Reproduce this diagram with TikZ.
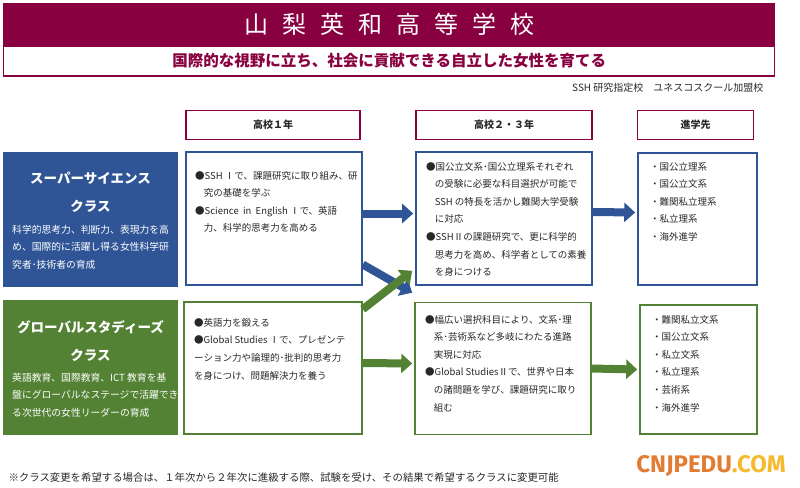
\documentclass[tikz,border=0pt]{standalone}
\usepackage{fontspec}
\setmainfont{Noto Sans CJK JP}
\newfontfamily\wmfont{Fira Sans}
\usetikzlibrary{arrows.meta,positioning}
\definecolor{schoolRed}{RGB}{136,0,64}
\definecolor{ssBlue}{RGB}{47,85,151}
\definecolor{gsGreen}{RGB}{84,130,53}
\definecolor{bodyInk}{RGB}{40,40,40}
\definecolor{wmOrange}{RGB}{226,124,50}
\definecolor{wmYellow}{RGB}{246,186,48}
\tikzset{
  headbox/.style={draw=schoolRed, line width=1.3pt, fill=white, minimum height=29pt, text=bodyInk, font=\bfseries\fontsize{10}{12}\selectfont},
  classbox/.style={minimum width=175pt, minimum height=135pt, inner sep=0pt},
  ssclass/.style={classbox, fill=ssBlue},
  gsclass/.style={classbox, fill=gsGreen},
  classtitle/.style={text=white, align=center, inner sep=0pt, font=\bfseries\fontsize{13.5}{28}\selectfont},
  classdesc/.style={text=white, align=left, inner sep=0pt, anchor=north west, font=\fontsize{9.8}{17.5}\selectfont},
  planbox/.style={fill=white, line width=1.6pt, inner sep=0pt},
  ssplan/.style={planbox, draw=ssBlue},
  gsplan/.style={planbox, draw=gsGreen},
  plantext/.style={align=left, text=bodyInk, inner sep=0pt, anchor=north west, font=\fontsize{9.5}{17.6}\selectfont},
  ssflow/.style={-{Triangle[length=11pt,width=19pt]}, line width=8pt, draw=ssBlue},
  gsflow/.style={-{Triangle[length=11pt,width=19pt]}, line width=8pt, draw=gsGreen}
}
\newcommand{\ind}{\hspace*{0.9em}}
\newcommand{\tsp}{\hspace{14pt}}

\begin{document}
\begin{tikzpicture}[x=1pt, y=-1pt, node distance=0pt]
  \useasboundingbox (0,0) rectangle (800,487);
  % title
  \node[fill=schoolRed, minimum width=772pt, minimum height=42pt, anchor=north west, text=white, font=\fontsize{24}{24}\selectfont] (ttl) at (3,3)
    {山\tsp 梨\tsp 英\tsp 和\tsp 高\tsp 等\tsp 学\tsp 校};
  \node[draw=schoolRed, line width=1.2pt, fill=white, minimum width=771pt, minimum height=30pt, below=0pt of ttl, text=schoolRed, font=\bfseries\fontsize{15.5}{16}\selectfont] (motto)
    {国際的な視野に立ち、社会に貢献できる自立した女性を育てる};
  \node[anchor=east, text=bodyInk, font=\fontsize{10}{12}\selectfont] (tag) at (767,88) {SSH 研究指定校　ユネスコスクール加盟校};

  % column heads
  \node[headbox, minimum width=174pt] (h1) at (273,125) {高校１年};
  \node[headbox, minimum width=176pt] (h2) at (504,125) {高校２・３年};
  \node[headbox, minimum width=116pt] (h3) at (695.5,125) {進学先};

  % super science
  \node[ssclass] (ssc) at (90.5,219.5) {};
  \node[classtitle] (ssct) at (90.5,192.5) {スーパーサイエンス\\クラス};
  \node[classdesc] (sscd) at (12,225) {科学的思考力、判断力、表現力を高\\め、国際的に活躍し得る女性科学研\\究者･技術者の育成};
  \node[ssplan, minimum width=176pt, minimum height=133pt] (ss1) at (274,218.5) {};
  \node[plantext] (ss1t) at (195,171) {●SSH Ⅰで、課題研究に取り組み、研\\\ind 究の基礎を学ぶ\\●Science\ \ in\ \ English Ⅰで、英語\\\ind 力、科学的思考力を高める};
  \node[ssplan, minimum width=176pt, minimum height=133pt] (ss2) at (504,218.5) {};
  \node[plantext] (ss2t) at (426,162) {●国公立文系･国公立理系それぞれ\\\ind の受験に必要な科目選択が可能で\\\ind SSH の特長を活かし難関大学受験\\\ind に対応\\●SSHⅡの課題研究で、更に科学的\\\ind 思考力を高め、科学者としての素養\\\ind を身につける};
  \node[ssplan, minimum width=119pt, minimum height=132pt] (ss3) at (697.5,219) {};
  \node[plantext] (ss3t) at (650,162) {・国公立理系\\・国公立文系\\・難関私立理系\\・私立理系\\・海外進学};

  % global studies
  \node[gsclass] (gsc) at (90.5,367.5) {};
  \node[classtitle] (gsct) at (90.5,341) {グローバルスタディーズ\\クラス};
  \node[classdesc] (gscd) at (12,373) {英語教育、国際教育、ICT 教育を基\\盤にグローバルなステージで活躍でき\\る次世代の女性リーダーの育成};
  \node[gsplan, minimum width=178pt, minimum height=132pt] (gs1) at (273,368) {};
  \node[plantext] (gs1t) at (194,318) {●英語力を鍛える\\●Global Studies Ⅰで、プレゼンテ\\ーション力や論理的･批判的思考力\\を身につけ、問題解決力を養う};
  \node[gsplan, minimum width=176pt, minimum height=132pt] (gs2) at (503,368.5) {};
  \node[plantext] (gs2t) at (425,315) {●幅広い選択科目により、文系･理\\\ind 系･芸術系など多岐にわたる進路\\\ind 実現に対応\\●Global StudiesⅡで、世界や日本\\\ind の諸問題を学び、課題研究に取り\\\ind 組む};
  \node[gsplan, minimum width=117pt, minimum height=129pt] (gs3) at (698.5,369.5) {};
  \node[plantext] (gs3t) at (652,315) {・難関私立文系\\・国公立文系\\・私立文系\\・私立理系\\・芸術系\\・海外進学};

  % flows
  \draw[ssflow] ([yshift=5pt]ss1.east) -- ([shift={(-2pt,5pt)}]ss2.west);
  \draw[ssflow] ([yshift=6.5pt]ss2.east) -- ([shift={(-2pt,6.5pt)}]ss3.west);
  \draw[gsflow] ([yshift=5pt]gs1.east) -- ([shift={(-2pt,5pt)}]gs2.west);
  \draw[gsflow] (gs2.east) -- ([xshift=-2pt]gs3.west);
  \draw[ssflow] ([yshift=-46pt]ss1.east) -- ([shift={(-2pt,9pt)}]gs2.north west);
  \draw[gsflow] ([yshift=-8pt]gs1.north east) -- ([shift={(-3pt,15pt)}]ss2.south west);

  \node[anchor=west, text=bodyInk, font=\fontsize{10.4}{12}\selectfont] (note) at (5,478) {※クラス変更を希望する場合は、１年次から２年次に進級する際、試験を受け、その結果で希望するクラスに変更可能};
  \node[font=\wmfont\bfseries\fontsize{24}{24}\selectfont] (wm) at (711,466) {\textcolor{wmOrange}{CNJPEDU}\textcolor{wmYellow}{.COM}};
\end{tikzpicture}
\end{document}
